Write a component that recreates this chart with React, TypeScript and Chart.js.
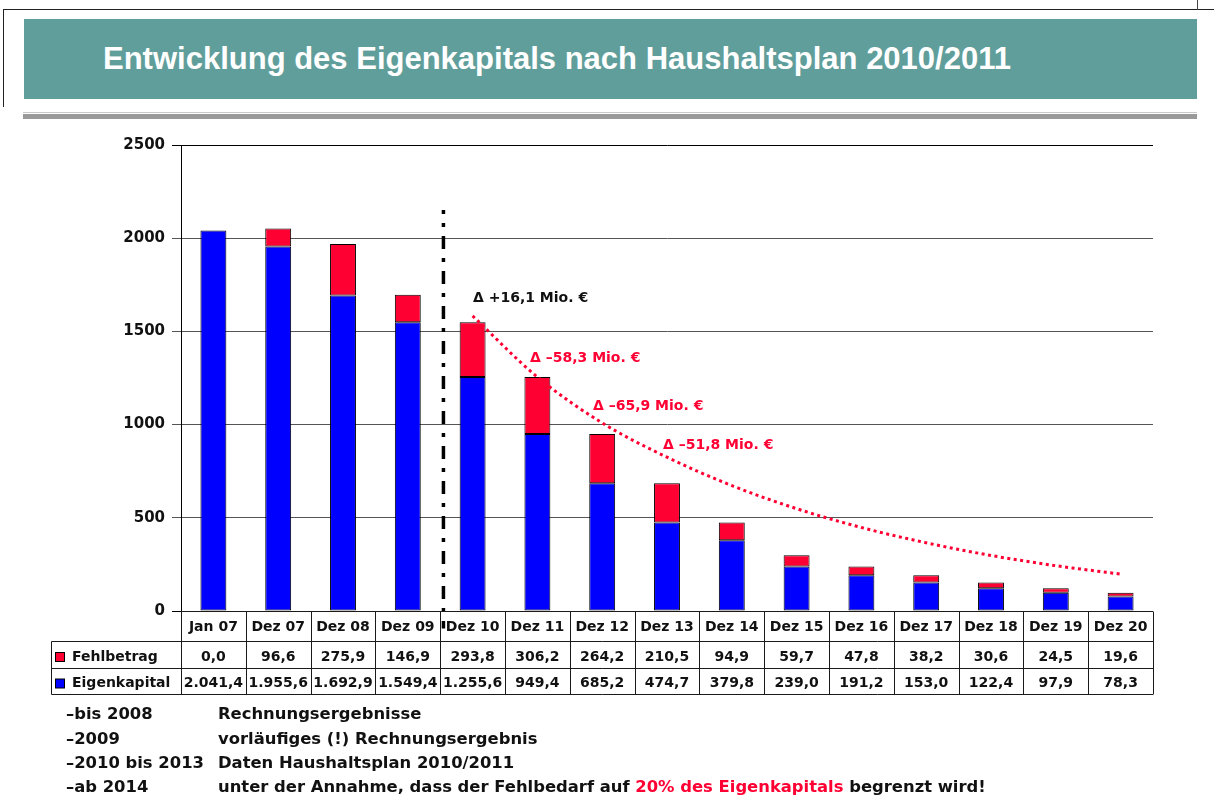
import React, { useEffect, useRef } from "react";
import { Chart, registerables } from "chart.js";

Chart.register(...registerables);

const categories = ["Jan 07", "Dez 07", "Dez 08", "Dez 09", "Dez 10", "Dez 11", "Dez 12", "Dez 13", "Dez 14", "Dez 15", "Dez 16", "Dez 17", "Dez 18", "Dez 19", "Dez 20"];
const fehlbetrag = [0.0, 96.6, 275.9, 146.9, 293.8, 306.2, 264.2, 210.5, 94.9, 59.7, 47.8, 38.2, 30.6, 24.5, 19.6];
const eigenkapital = [2041.4, 1955.6, 1692.9, 1549.4, 1255.6, 949.4, 685.2, 474.7, 379.8, 239.0, 191.2, 153.0, 122.4, 97.9, 78.3];
const trendValues = [null, null, null, null, 1583, 1255, 1009, 825, 673, 549, 448, 366, 298, 243, 198];
const yTickValues = [0, 500, 1000, 1500, 2000, 2500];
const seriesNames = ["Fehlbetrag", "Eigenkapital"];
const deltaLabels = ["Δ +16,1 Mio. €", "Δ –58,3 Mio. €", "Δ –65,9 Mio. €", "Δ –51,8 Mio. €"];
const deltaAtCategory = [4.006, 4.886, 5.858, 6.938];
const deltaAtValue = [1679, 1357, 1100, 890];
const deltaColors = ["#111111", "#FF0033", "#FF0033", "#FF0033"];
const separatorAtCategory = 3.55;
const separatorTopValue = 2151;
const titleText = "Entwicklung des Eigenkapitals nach Haushaltsplan 2010/2011";
const noteLeft = ["–bis 2008", "–2009", "–2010 bis 2013", "–ab 2014"];
const noteRight = ["Rechnungsergebnisse", "vorläufiges (!) Rechnungsergebnis", "Daten Haushaltsplan 2010/2011", "unter der Annahme, dass der Fehlbedarf auf "];

const RED = "#FF0033";
const BLUE = "#0000FF";
const FONT = "'DejaVu Sans', Verdana, sans-serif";

function fmt(v: number): string {
  const fixed = v.toFixed(1);
  const [intPart, dec] = fixed.split(".");
  const withDots = intPart.replace(/\B(?=(\d{3})+(?!\d))/g, ".");
  return withDots + "," + dec;
}

export default function App() {
  const ref = useRef<HTMLCanvasElement>(null);

  useEffect(() => {
    const canvas = ref.current;
    if (!canvas) return;

    const overlay = {
      id: "tableOverlay",
      afterDraw(chart: any) {
        const ctx = chart.ctx as CanvasRenderingContext2D;
        const xs = chart.scales.x;
        const ys = chart.scales.y;
        const area = chart.chartArea;
        const n = categories.length;
        const w = (area.right - area.left) / n;
        const top = Math.round(area.bottom) + 0.5;
        const r1 = top + 30;
        const r2 = top + 57;
        const r3 = top + 83;
        const labelLeft = 51.5;

        ctx.save();
        // separator dash-dot line
        const sx = xs.getPixelForValue(separatorAtCategory);
        ctx.strokeStyle = "#000";
        ctx.lineWidth = 3.5;
        ctx.setLineDash([13, 9, 4, 9]);
        ctx.lineDashOffset = 9;
        ctx.beginPath();
        ctx.moveTo(sx, ys.getPixelForValue(separatorTopValue));
        ctx.lineTo(sx, top + 17);
        ctx.stroke();
        ctx.setLineDash([]);

        // table lines
        ctx.strokeStyle = "#1a1a1a";
        ctx.lineWidth = 1;
        ctx.beginPath();
        ctx.moveTo(area.left, top);
        ctx.lineTo(area.right, top);
        [r1, r2, r3].forEach((y) => {
          ctx.moveTo(labelLeft, y);
          ctx.lineTo(area.right, y);
        });
        for (let i = 0; i <= n; i++) {
          const x = Math.round(area.left + i * w) + 0.5;
          ctx.moveTo(x, top);
          ctx.lineTo(x, r3);
        }
        ctx.moveTo(labelLeft, r1);
        ctx.lineTo(labelLeft, r3);
        ctx.stroke();

        // text
        ctx.fillStyle = "#111";
        ctx.font = `bold 14px ${FONT}`;
        ctx.textAlign = "center";
        ctx.textBaseline = "middle";
        for (let i = 0; i < n; i++) {
          const cx = xs.getPixelForValue(i);
          ctx.fillText(categories[i], cx, (top + r1) / 2 + 1);
          ctx.fillText(fmt(fehlbetrag[i]), cx, (r1 + r2) / 2 + 2);
          ctx.fillText(fmt(eigenkapital[i]), cx, (r2 + r3) / 2 + 2);
        }
        // legend keys + row labels
        const rows = [(r1 + r2) / 2 + 2, (r2 + r3) / 2 + 2];
        const keyColors = [RED, BLUE];
        ctx.textAlign = "left";
        rows.forEach((cy, k) => {
          ctx.fillStyle = keyColors[k];
          ctx.fillRect(55.5, cy - 4.5, 9, 9);
          ctx.strokeStyle = "#000";
          ctx.strokeRect(55.5, cy - 4.5, 9, 9);
          ctx.fillStyle = "#111";
          ctx.fillText(seriesNames[k], 72, cy);
        });

        // delta annotations
        ctx.font = `bold 14px ${FONT}`;
        ctx.textAlign = "left";
        deltaLabels.forEach((t, k) => {
          ctx.fillStyle = deltaColors[k];
          ctx.fillText(t, xs.getPixelForValue(deltaAtCategory[k]), ys.getPixelForValue(deltaAtValue[k]));
        });
        ctx.restore();
      },
    };

    const chart = new Chart(canvas, {
      type: "bar",
      data: {
        labels: categories,
        datasets: [
          {
            type: "bar",
            label: "Eigenkapital",
            data: eigenkapital,
            backgroundColor: BLUE,
            borderColor: "#000",
            borderWidth: 1,
            borderSkipped: false,
            stack: "s",
            barPercentage: 0.4,
            categoryPercentage: 1.0,
            order: 1,
          },
          {
            type: "bar",
            label: "Fehlbetrag",
            data: fehlbetrag,
            backgroundColor: RED,
            borderColor: "#000",
            borderWidth: 1,
            borderSkipped: false,
            stack: "s",
            barPercentage: 0.4,
            categoryPercentage: 1.0,
            order: 1,
          },
          {
            type: "line",
            label: "Trend",
            data: trendValues as any,
            borderColor: RED,
            borderWidth: 3,
            borderDash: [3, 3.5],
            pointRadius: 0,
            cubicInterpolationMode: "monotone",
            fill: false,
            stack: "t",
            order: 0,
          } as any,
        ],
      },
      options: {
        responsive: false,
        animation: false,
        devicePixelRatio: 1,
        layout: { padding: { left: 0, top: 145, right: 61, bottom: 194 } },
        plugins: { legend: { display: false }, tooltip: { enabled: false } },
        scales: {
          x: { display: false, stacked: true, offset: true },
          y: {
            stacked: true,
            min: 0,
            max: 2500,
            afterFit: (s: any) => {
              s.width = 181;
            },
            afterBuildTicks: (s: any) => {
              s.ticks = yTickValues.map((v) => ({ value: v }));
            },
            ticks: {
              callback: (v: any) => String(v),
              font: { family: FONT, size: 15, weight: "bold" },
              color: "#111",
              padding: 7,
            },
            grid: {
              color: (c: any) => (c.tick && (c.tick.value === 2500 || c.tick.value === 0) ? "#000" : "#555"),
              tickLength: 9,
              lineWidth: 1,
            },
            border: { color: "#000", width: 1 },
          },
        },
      },
      plugins: [overlay],
    } as any);

    return () => chart.destroy();
  }, []);

  const noteTop = [704, 729, 753, 777];

  return (
    <div style={{ position: "absolute", left: 0, top: 0, width: 1214, height: 805, background: "#fff", overflow: "hidden" }}>
      <canvas ref={ref} width={1214} height={805} style={{ position: "absolute", left: 0, top: 0, width: 1214, height: 805 }} />
      <div style={{ position: "absolute", left: 3, top: 9, width: 1211, height: 0, borderTop: "1.5px solid #222" }} />
      <div style={{ position: "absolute", left: 3, top: 9, width: 0, height: 98, borderLeft: "1.5px solid #222" }} />
      <div style={{ position: "absolute", left: 1197, top: 0, width: 0, height: 10, borderLeft: "1px solid #444" }} />
      <div style={{ position: "absolute", left: 24, top: 19, width: 1173, height: 80, background: "#609E9B" }} />
      <div
        style={{
          position: "absolute",
          left: 103,
          top: 19,
          height: 80,
          lineHeight: "80px",
          color: "#fff",
          fontFamily: "'Liberation Sans', Arial, sans-serif",
          fontWeight: "bold",
          fontSize: 31,
          whiteSpace: "nowrap",
        }}
      >
        {titleText}
      </div>
      <div style={{ position: "absolute", left: 23, top: 112, width: 1174, height: 1, background: "#c8c8c8" }} />
      <div style={{ position: "absolute", left: 23, top: 114, width: 1174, height: 5, background: "#9a9a9a" }} />
      {noteLeft.map((t, i) => (
        <React.Fragment key={i}>
          <div
            style={{
              position: "absolute",
              left: 66,
              top: noteTop[i],
              height: 20,
              lineHeight: "20px",
              fontFamily: FONT,
              fontWeight: "bold",
              fontSize: 16.4,
              color: "#111",
              whiteSpace: "nowrap",
            }}
          >
            {t}
          </div>
          <div
            style={{
              position: "absolute",
              left: 218,
              top: noteTop[i],
              height: 20,
              lineHeight: "20px",
              fontFamily: FONT,
              fontWeight: "bold",
              fontSize: 16.4,
              color: "#111",
              whiteSpace: "nowrap",
            }}
          >
            {noteRight[i]}
            {i === 3 ? (
              <>
                <span style={{ color: RED }}>20% des Eigenkapitals</span> begrenzt wird!
              </>
            ) : null}
          </div>
        </React.Fragment>
      ))}
    </div>
  );
}
